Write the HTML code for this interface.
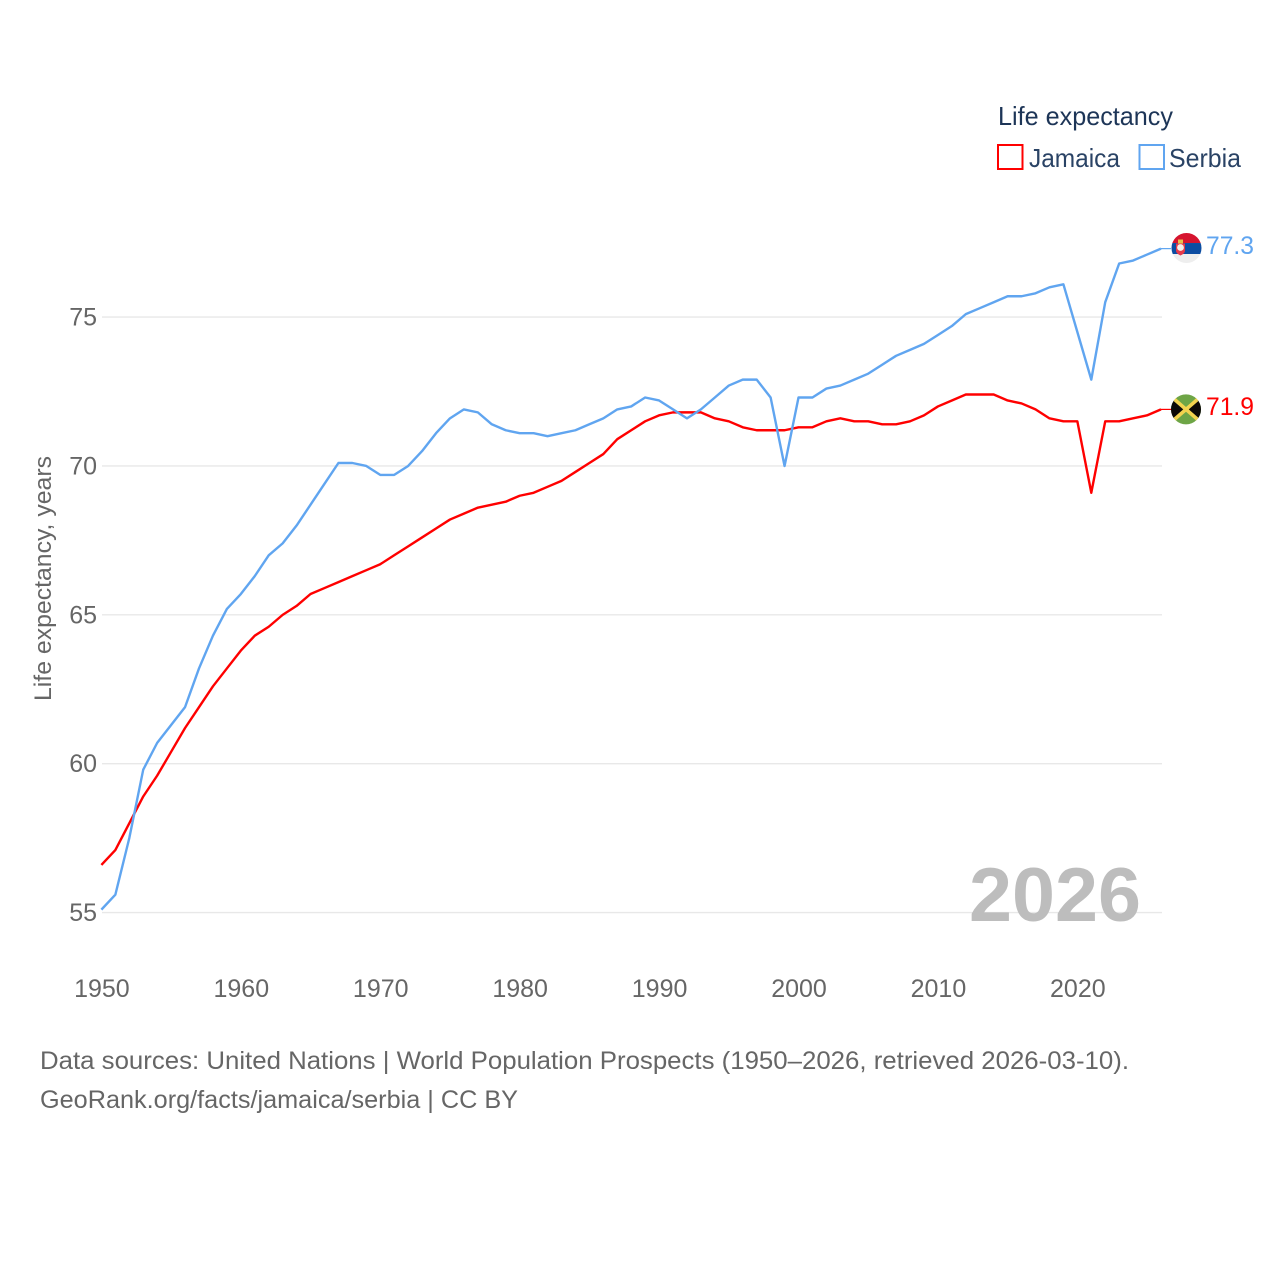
<!DOCTYPE html>
<html lang="en">
<head>
<meta charset="utf-8">
<title>Life expectancy: Jamaica and Serbia</title>
<style>
html,body{margin:0;padding:0;background:#fff}
svg{display:block}
text{font-family:"Liberation Sans",sans-serif}
</style>
</head>
<body>
<svg id="chart" width="1280" height="1280" viewBox="0 0 1280 1280" xmlns="http://www.w3.org/2000/svg">
  <defs>
    <clipPath id="flag-circle"><circle cx="0" cy="0" r="15"></circle></clipPath>
  </defs>
  <g id="grid"></g>
  <g id="y-labels"></g>
  <g id="x-labels"></g>
  <text transform="translate(51,701) rotate(-90)" font-size="24" fill="#666" textLength="245" lengthAdjust="spacingAndGlyphs">Life expectancy, years</text>
  <text x="969" y="921" font-size="76" font-weight="700" fill="#bdbdbd" textLength="172" lengthAdjust="spacingAndGlyphs">2026</text>
  <g id="series"></g>

  <g id="flag-serbia">
    <g clip-path="url(#flag-circle)">
      <rect x="-16" y="-16" width="32" height="11" fill="#d6142f"></rect>
      <rect x="-16" y="-5" width="32" height="11" fill="#0c4da2"></rect>
      <rect x="-16" y="6" width="32" height="10" fill="#eeeeee"></rect>
      <path d="M-10.5 -4.5 h9 v7 q0 3 -4.5 5 q-4.5 -2 -4.5 -5 z" fill="#e6394a"></path>
      <circle cx="-6" cy="-0.5" r="3.4" fill="#f4f0ea"></circle>
      <rect x="-8.5" y="-8.5" width="5" height="4" fill="#e8c14d"></rect>
    </g>
  </g>
  <g id="flag-jamaica">
    <g clip-path="url(#flag-circle)">
      <rect x="-16" y="-16" width="32" height="32" fill="#6ea546"></rect>
      <path d="M-16 -13 L0 0 L-16 13 Z M16 -13 L0 0 L16 13 Z" fill="#0c0a08"></path>
      <path d="M-15 -13 L15 13 M15 -13 L-15 13" stroke="#f2d34f" stroke-width="3.6" fill="none"></path>
    </g>
  </g>
  <g id="end-labels"></g>

  <g>
    <text x="998" y="125" font-size="26" fill="#1d3557" textLength="175" lengthAdjust="spacingAndGlyphs">Life expectancy</text>
    <g>
      <rect x="998" y="145" width="24.5" height="24" fill="#fff" stroke="#ff0000" stroke-width="2"></rect>
      <text x="1029" y="167" font-size="26" fill="#2a4365" textLength="91" lengthAdjust="spacingAndGlyphs">Jamaica</text>
    </g>
    <g>
      <rect x="1139.5" y="145" width="24.5" height="24" fill="#fff" stroke="#60a5f0" stroke-width="2"></rect>
      <text x="1169" y="167" font-size="26" fill="#2a4365" textLength="72" lengthAdjust="spacingAndGlyphs">Serbia</text>
    </g>
  </g>

  <text x="40" y="1069" font-size="25" fill="#666" textLength="1089" lengthAdjust="spacingAndGlyphs">Data sources: United Nations | World Population Prospects (1950–2026, retrieved 2026-03-10).</text>
  <text x="40" y="1108" font-size="25" fill="#666" textLength="478" lengthAdjust="spacingAndGlyphs">GeoRank.org/facts/jamaica/serbia | CC BY</text>
</svg>

<script>
const years = [1950,1951,1952,1953,1954,1955,1956,1957,1958,1959,1960,1961,1962,1963,1964,1965,1966,1967,1968,1969,1970,1971,1972,1973,1974,1975,1976,1977,1978,1979,1980,1981,1982,1983,1984,1985,1986,1987,1988,1989,1990,1991,1992,1993,1994,1995,1996,1997,1998,1999,2000,2001,2002,2003,2004,2005,2006,2007,2008,2009,2010,2011,2012,2013,2014,2015,2016,2017,2018,2019,2020,2021,2022,2023,2024,2025,2026];
const jamaicaValues = [56.6,57.1,58.0,58.9,59.6,60.4,61.2,61.9,62.6,63.2,63.8,64.3,64.6,65.0,65.3,65.7,65.9,66.1,66.3,66.5,66.7,67.0,67.3,67.6,67.9,68.2,68.4,68.6,68.7,68.8,69.0,69.1,69.3,69.5,69.8,70.1,70.4,70.9,71.2,71.5,71.7,71.8,71.8,71.8,71.6,71.5,71.3,71.2,71.2,71.2,71.3,71.3,71.5,71.6,71.5,71.5,71.4,71.4,71.5,71.7,72.0,72.2,72.4,72.4,72.4,72.2,72.1,71.9,71.6,71.5,71.5,69.1,71.5,71.5,71.6,71.7,71.9];
const serbiaValues = [55.1,55.6,57.5,59.8,60.7,61.3,61.9,63.2,64.3,65.2,65.7,66.3,67.0,67.4,68.0,68.7,69.4,70.1,70.1,70.0,69.7,69.7,70.0,70.5,71.1,71.6,71.9,71.8,71.4,71.2,71.1,71.1,71.0,71.1,71.2,71.4,71.6,71.9,72.0,72.3,72.2,71.9,71.6,71.9,72.3,72.7,72.9,72.9,72.3,70.0,72.3,72.3,72.6,72.7,72.9,73.1,73.4,73.7,73.9,74.1,74.4,74.7,75.1,75.3,75.5,75.7,75.7,75.8,76.0,76.1,74.5,72.9,75.5,76.8,76.9,77.1,77.3];
const yTicks = [55,60,65,70,75];
const xTicks = [1950,1960,1970,1980,1990,2000,2010,2020];

const NS = 'http://www.w3.org/2000/svg';
function xScale(year){ return 101.4 + (year - 1950) * (1161 - 101.4) / 76; }
function yScale(value){ return 912.6 - (value - 55) * (912.6 - 317.1) / 20; }

const gridGroup = document.getElementById('grid');
const yLabelGroup = document.getElementById('y-labels');
const xLabelGroup = document.getElementById('x-labels');
const seriesGroup = document.getElementById('series');
const endLabelGroup = document.getElementById('end-labels');

yTicks.forEach(function(tick){
  const line = document.createElementNS(NS, 'line');
  
  
  line.setAttribute('x1', 102);
  line.setAttribute('x2', 1162);
  line.setAttribute('y1', yScale(tick));
  line.setAttribute('y2', yScale(tick));
  line.setAttribute('stroke', '#e8e8e8');
  line.setAttribute('stroke-width', '1.4');
  gridGroup.appendChild(line);

  const label = document.createElementNS(NS, 'text');
  
  
  label.setAttribute('x', 97);
  label.setAttribute('y', yScale(tick) + 8.5);
  label.setAttribute('text-anchor', 'end');
  label.setAttribute('font-size', '25');
  label.setAttribute('fill', '#666');
  label.textContent = String(tick);
  yLabelGroup.appendChild(label);
});

xTicks.forEach(function(tick){
  const label = document.createElementNS(NS, 'text');
  
  
  label.setAttribute('x', xScale(tick) + 0.5);
  label.setAttribute('y', 997);
  label.setAttribute('text-anchor', 'middle');
  label.setAttribute('font-size', '25');
  label.setAttribute('fill', '#666');
  label.textContent = String(tick);
  xLabelGroup.appendChild(label);
});

function drawSeries(values, color, seriesName){
  const points = values.map(function(v, i){ return xScale(years[i]).toFixed(2) + ',' + yScale(v).toFixed(2); });
  const path = document.createElementNS(NS, 'polyline');
  
  
  path.setAttribute('points', points.join(' '));
  path.setAttribute('fill', 'none');
  path.setAttribute('stroke', color);
  path.setAttribute('stroke-width', '2.4');
  path.setAttribute('stroke-linejoin', 'round');
  seriesGroup.appendChild(path);

  const lastValue = values[values.length - 1];
  const connector = document.createElementNS(NS, 'line');
  
  
  connector.setAttribute('x1', xScale(years[years.length - 1]));
  connector.setAttribute('x2', xScale(years[years.length - 1]) + 10);
  connector.setAttribute('y1', yScale(lastValue));
  connector.setAttribute('y2', yScale(lastValue));
  connector.setAttribute('stroke', color);
  connector.setAttribute('stroke-width', '1.2');
  seriesGroup.appendChild(connector);

  const label = document.createElementNS(NS, 'text');
  
  
  label.setAttribute('x', 1206);
  label.setAttribute('y', yScale(lastValue) + 5.5);
  label.setAttribute('font-size', '25');
  label.setAttribute('fill', color);
  label.setAttribute('textLength', '48');
  label.setAttribute('lengthAdjust', 'spacingAndGlyphs');
  label.textContent = lastValue.toFixed(1);
  endLabelGroup.appendChild(label);
}

drawSeries(jamaicaValues, '#ff0000', 'jamaica-line');
drawSeries(serbiaValues, '#60a5f0', 'serbia-line');

document.getElementById('flag-serbia').setAttribute('transform', 'translate(1186.5,' + (yScale(serbiaValues[serbiaValues.length - 1]) - 0.6) + ')');
document.getElementById('flag-jamaica').setAttribute('transform', 'translate(1186,' + yScale(jamaicaValues[jamaicaValues.length - 1]) + ')');
</script>
</body>
</html>
